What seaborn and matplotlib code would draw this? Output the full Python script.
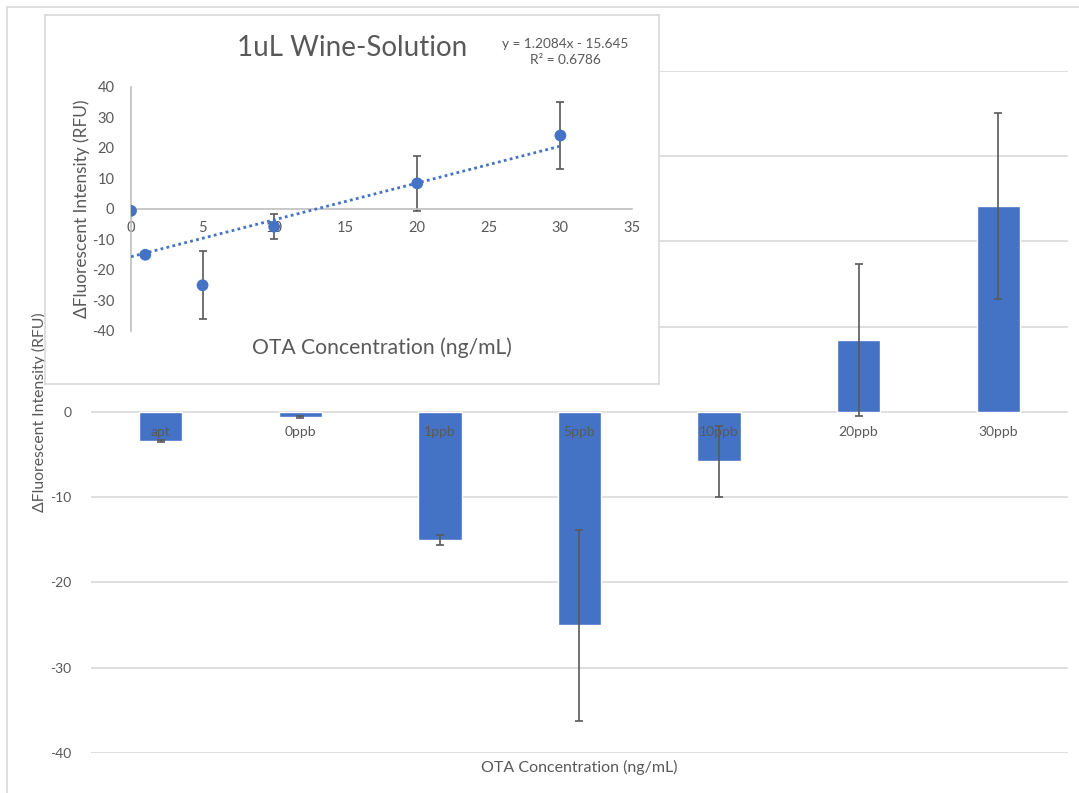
import numpy as np
import matplotlib
matplotlib.use("Agg")
import matplotlib.pyplot as plt
from matplotlib.lines import Line2D
import seaborn as sns

# Change in fluorescence per sample (RFU), mean and error
categories = ["apt", "0ppb", "1ppb", "5ppb", "10ppb", "20ppb", "30ppb"]
delta_rfu = [-3.4, -0.6, -15.0, -25.0, -5.8, 8.4, 24.1]
delta_err = [0.1, 0.1, 0.6, 11.2, 4.2, 8.9, 10.9]

# OTA spikes in 1 uL wine solution (ng/mL), matching the ppb samples
conc_ng_ml = [0, 1, 5, 10, 20, 30]
conc_rfu = delta_rfu[1:]
conc_err = delta_err[1:]

# Linear trendline
fit_slope = 1.2084
fit_intercept = -15.645
fit_r2 = 0.6786

main_ticks = [-40, -30, -20, -10, 0, 10, 20, 30, 40]
inset_xticks = [0, 5, 10, 15, 20, 25, 30, 35]

BLUE = "#4472C4"
TEXT = "#595959"
GRID = "#D9D9D9"
ERR = "#595959"

sns.set_theme(style="white")
plt.rcParams["font.family"] = ["Lato", "DejaVu Sans"]
plt.rcParams["text.color"] = TEXT
plt.rcParams["axes.labelcolor"] = TEXT
plt.rcParams["axes.unicode_minus"] = False

fig = plt.figure(figsize=(10.79, 7.93), dpi=100)
fig.patch.set_facecolor("white")

# Outer chart frame (left and top edges)
fig.add_artist(Line2D([7 / 1079, 7 / 1079], [0, 1 - 7 / 793], transform=fig.transFigure,
                      color=GRID, lw=1.2))
fig.add_artist(Line2D([7 / 1079, 1], [1 - 7 / 793, 1 - 7 / 793], transform=fig.transFigure,
                      color=GRID, lw=1.2))

# ---- main bar chart ----
ax = fig.add_axes([0.0843, 0.0504, 0.9055, 0.8603])
x_pos = np.arange(len(categories))
sns.barplot(x=categories, y=delta_rfu, color=BLUE, saturation=1, width=0.31,
            errorbar=None, ax=ax, zorder=1)
ax.errorbar(x_pos, delta_rfu, yerr=delta_err, fmt="none", ecolor=ERR,
            elinewidth=1.2, capsize=3, capthick=1.2, zorder=2)
ax.set_xlim(-0.5, len(categories) - 0.5)
ax.set_ylim(-40, 40)
ax.set_yticks(main_ticks)
ax.grid(axis="y", color=GRID, lw=1.2)
ax.grid(axis="x", visible=False)
for side in ["left", "right", "top", "bottom"]:
    ax.spines[side].set_visible(False)
ax.spines["bottom"].set_position(("data", 0))
ax.tick_params(axis="x", length=0, pad=10, labelsize=10, labelcolor=TEXT)
ax.tick_params(axis="y", length=0, pad=14, labelsize=10, labelcolor=TEXT)
ax.yaxis.set_zorder(0.5)
ax.xaxis.set_zorder(3)
ax.set_xlabel("OTA Concentration (ng/mL)", fontsize=11.5, color=TEXT)
ax.xaxis.set_label_coords(0.5, -0.01)
ax.set_ylabel("ΔFluorescent Intensity (RFU)", fontsize=11.3, color=TEXT)
ax.yaxis.set_label_coords(-0.045, 0.5)

# ---- inset calibration chart ----
panel = fig.add_axes([0.0417, 0.5158, 0.569, 0.4653])
panel.set_facecolor("white")
panel.set_xticks([])
panel.set_yticks([])
for s in panel.spines.values():
    s.set_color(GRID)
    s.set_linewidth(1.2)

ins = fig.add_axes([0.1214, 0.5826, 0.4643, 0.3077])
ins.set_facecolor("none")
fit_x = np.array([min(conc_ng_ml), max(conc_ng_ml)])
ins.plot(fit_x, fit_slope * fit_x + fit_intercept, ls=(0, (1, 1.2)), lw=2.0,
         color=BLUE, zorder=3)
ins.errorbar(conc_ng_ml, conc_rfu, yerr=conc_err, fmt="none", ecolor=ERR,
             elinewidth=1.2, capsize=3, capthick=1.2, zorder=2)
sns.scatterplot(x=conc_ng_ml, y=conc_rfu, color=BLUE, s=72, edgecolor="none",
                ax=ins, zorder=4)
ins.set_xlim(0, 35)
ins.set_ylim(-40, 40)
ins.set_xticks(inset_xticks)
ins.set_yticks(main_ticks)
ins.spines["top"].set_visible(False)
ins.spines["right"].set_visible(False)
ins.spines["left"].set_position(("data", 0))
ins.spines["bottom"].set_position(("data", 0))
for side in ["left", "bottom"]:
    ins.spines[side].set_color("#BFBFBF")
    ins.spines[side].set_linewidth(1.2)
ins.tick_params(axis="x", length=0, pad=9, labelsize=10.5, labelcolor=TEXT)
ins.tick_params(axis="y", length=0, pad=12, labelsize=10.5, labelcolor=TEXT)
ins.set_xlabel("OTA Concentration (ng/mL)", fontsize=15.2, color=TEXT)
ins.xaxis.set_label_coords(0.501, -0.028)
ins.set_ylabel("ΔFluorescent Intensity (RFU)", fontsize=12.4, color=TEXT)
ins.yaxis.set_label_coords(-0.082, 0.5)

fig.text(352 / 1079, 1 - 48 / 793, "1uL Wine-Solution", ha="center", va="center",
         fontsize=20, color=TEXT)
sign = "-" if fit_intercept < 0 else "+"
fig.text(565 / 1079, 1 - 51.5 / 793,
         f"y = {fit_slope}x {sign} {abs(fit_intercept)}\nR² = {fit_r2}",
         ha="center", va="center", fontsize=9.8, color=TEXT, linespacing=1.4)

fig.savefig("out.png", dpi=100, facecolor="white")
